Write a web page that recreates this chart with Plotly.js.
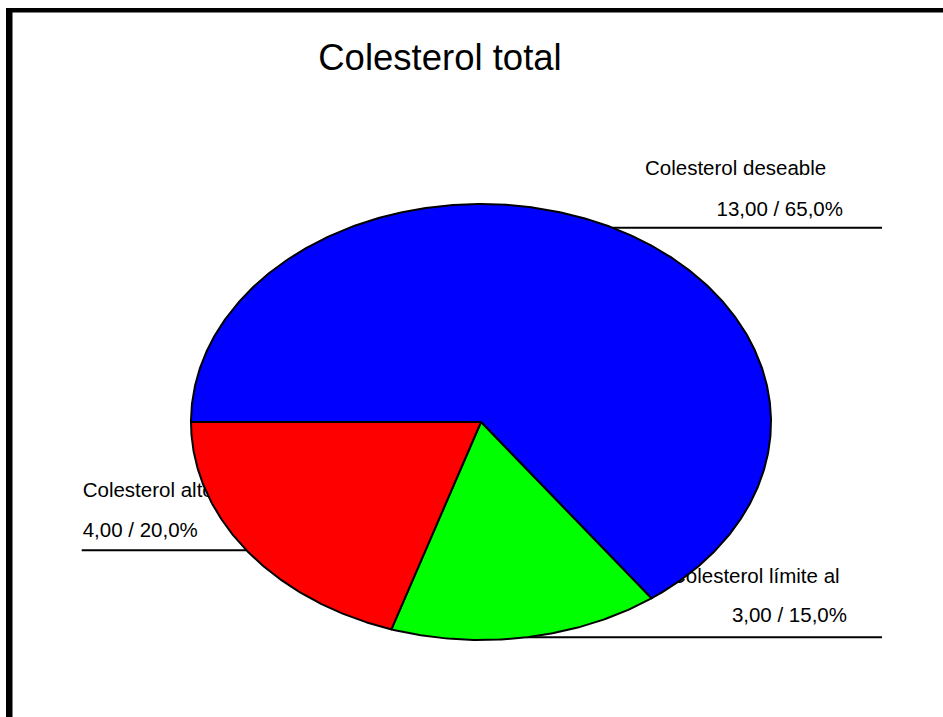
<!DOCTYPE html>
<html>
<head>
<meta charset="utf-8">
<script src="https://cdn.plot.ly/plotly-3.0.1.min.js"></script>
<style>
  html, body { margin: 0; padding: 0; background: #ffffff; }
  #chart { width: 943px; height: 717px; }
</style>
</head>
<body>
<div id="chart"></div>
<script>
// Slices, in drawing order (clockwise from 9 o'clock)
const categories = ['Colesterol deseable', 'Colesterol límite al', 'Colesterol alto'];
const counts = [13, 3, 4];
const sliceColors = ['#0000ff', '#00ff00', '#ff0000'];

// Canvas and ellipse geometry (pixels)
const W = 943, H = 717;
const CX = 481, CY = 422, RX = 290, RY = 218;
const START_ANGLE = 180;           // first slice starts on the left

// Label placement per slice (pixels)
const labelPlacement = [
  { side: 'right', nameX: 645, nameY: 170,   valX: 843, valY: 210.5, lineEnd: 882 },
  { side: 'right', nameX: 671, nameY: 577.5, valX: 847, valY: 617,   lineEnd: 882 },
  { side: 'left',  nameX: 82.7, nameY: 491.5, valX: 82.7, valY: 531.5, lineEnd: 81.7 }
];

const FONT = 'Liberation Sans, Arial, sans-serif';

// pixel -> axis units (axes are scaled so the unit circle maps onto the ellipse)
const ux = p => (p - CX) / RX;
const uy = p => (CY - p) / RY;
const rad = d => d * Math.PI / 180;

const fmt = (v, digits) => v.toFixed(digits).replace('.', ',');

const total = counts.reduce((a, b) => a + b, 0);

const wedgeTraces = [];
const textTraces = [];
const shapes = [];

let angle = START_ANGLE;
counts.forEach((v, i) => {
  const span = 360 * v / total;
  const n = Math.max(2, Math.ceil(span * 2));
  const xs = [0], ys = [0];
  for (let k = 0; k <= n; k++) {
    const a = rad(angle - span * k / n);
    xs.push(Math.cos(a));
    ys.push(Math.sin(a));
  }
  xs.push(0); ys.push(0);
  wedgeTraces.push({
    type: 'scatter', mode: 'lines', x: xs, y: ys,
    fill: 'toself', fillcolor: sliceColors[i],
    line: { color: '#000000', width: 2 },
    hoverinfo: 'skip', showlegend: false
  });

  // leader line from the slice's mid-angle edge point out to the label
  const mid = rad(angle - span / 2);
  const ex = Math.cos(mid), ey = Math.sin(mid);
  const lp = labelPlacement[i];
  shapes.push({
    type: 'line', xref: 'x', yref: 'y', layer: 'below',
    x0: ex, y0: ey, x1: ux(lp.lineEnd), y1: ey,
    line: { color: '#000000', width: 2 }
  });

  const pct = 100 * v / total;
  textTraces.push({
    type: 'scatter', mode: 'text',
    x: [ux(lp.nameX)], y: [uy(lp.nameY)],
    text: [categories[i]], textposition: 'middle right',
    textfont: { family: FONT, size: 20.5, color: '#000000' },
    hoverinfo: 'skip', showlegend: false
  });
  textTraces.push({
    type: 'scatter', mode: 'text',
    x: [ux(lp.valX)], y: [uy(lp.valY)],
    text: [fmt(v, 2) + ' / ' + fmt(pct, 1) + '%'],
    textposition: lp.side === 'right' ? 'middle left' : 'middle right',
    textfont: { family: FONT, size: 20.5, color: '#000000' },
    hoverinfo: 'skip', showlegend: false
  });

  angle -= span;
});

// page frame (top and left edges)
shapes.push(
  { type: 'rect', xref: 'paper', yref: 'paper', layer: 'above',
    x0: 6 / W, x1: 12.5 / W, y0: 0, y1: 1 - 8 / H,
    fillcolor: '#000000', line: { width: 0 } },
  { type: 'rect', xref: 'paper', yref: 'paper', layer: 'above',
    x0: 6 / W, x1: 1, y0: 1 - 12.5 / H, y1: 1 - 8 / H,
    fillcolor: '#000000', line: { width: 0 } }
);

const axisBase = { visible: false, showgrid: false, zeroline: false, fixedrange: true };

const layout = {
  width: W, height: H,
  margin: { l: 0, r: 0, t: 0, b: 0, pad: 0 },
  paper_bgcolor: '#ffffff', plot_bgcolor: '#ffffff',
  showlegend: false,
  title: {
    text: 'Colesterol total',
    font: { family: FONT, size: 36.5, color: '#000000' },
    xref: 'paper', yref: 'paper',
    x: 440 / W, xanchor: 'center',
    y: 1 - 57 / H, yanchor: 'middle'
  },
  xaxis: Object.assign({ range: [ux(0), ux(W)] }, axisBase),
  yaxis: Object.assign({ range: [uy(H), uy(0)] }, axisBase),
  shapes: shapes
};

// labels first so the slices sit on top of them
Plotly.newPlot('chart', textTraces.concat(wedgeTraces), layout,
  { displayModeBar: false, staticPlot: true });
</script>
</body>
</html>
